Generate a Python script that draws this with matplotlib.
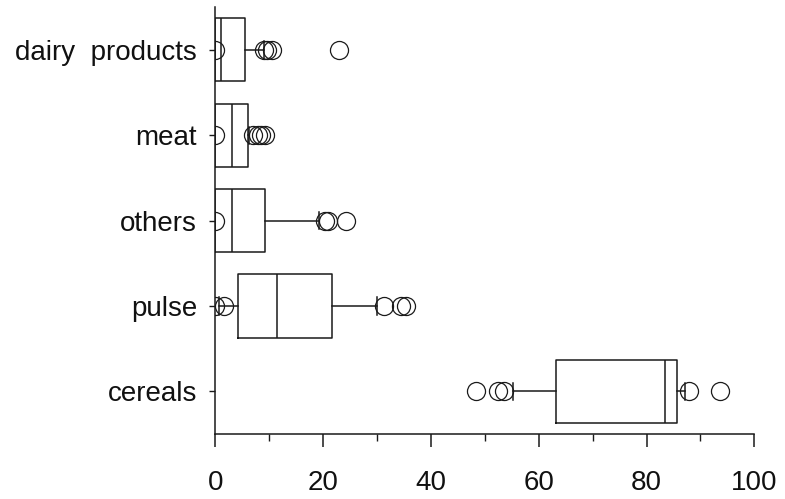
import matplotlib
matplotlib.use("Agg")
import matplotlib.pyplot as plt
from matplotlib.ticker import MultipleLocator

# Data (bottom to top)
categories = ["cereals", "pulse", "others", "meat", "dairy  products"]
q1      = [63.2, 4.2, 0.0, 0.0, 0.0]
medians = [83.4, 11.4, 3.1, 3.1, 1.0]
q3      = [85.6, 21.6, 9.2, 6.0, 5.4]
whislo  = [55.2, 0.7, 0.0, 0.0, 0.0]
whishi  = [87.1, 29.9, 19.2, 6.3, 9.0]
fliers  = [
    [48.3, 52.4, 53.6, 87.8, 93.7],
    [0.0, 1.6, 31.3, 34.5, 35.3],
    [0.0, 20.3, 20.9, 24.2],
    [0.0, 7.0, 7.8, 8.5, 9.2],
    [0.0, 9.0, 9.6, 10.5, 23.0],
]
xticks = [0, 20, 40, 60, 80, 100]

plt.rcParams['font.family'] = ['Liberation Sans', 'DejaVu Sans']

fig = plt.figure(figsize=(7.85, 4.99), dpi=100)
ax = fig.add_axes([0.2745, 0.130, 0.6864, 0.856])

stats = []
for i, c in enumerate(categories):
    stats.append(dict(label=c, q1=q1[i], med=medians[i], q3=q3[i],
                      whislo=whislo[i], whishi=whishi[i], fliers=fliers[i]))

lc = "#1a1a1a"
lw = 1.1
positions = list(range(1, len(categories) + 1))
ax.bxp(stats, positions=positions, vert=False, widths=0.74,
       capwidths=0.2,
       boxprops=dict(color=lc, linewidth=lw),
       medianprops=dict(color=lc, linewidth=lw),
       whiskerprops=dict(color=lc, linewidth=lw),
       capprops=dict(color=lc, linewidth=lw),
       flierprops=dict(marker='o', markersize=13, markerfacecolor='none',
                       markeredgecolor=lc, markeredgewidth=0.9, linestyle='none'))

ax.set_xlim(0, 100)
ax.set_ylim(0.5, len(categories) + 0.5)
ax.set_yticks(positions)
ax.set_yticklabels(categories)
ax.set_xticks(xticks)
ax.set_xticklabels([str(t) for t in xticks])
ax.xaxis.set_minor_locator(MultipleLocator(10))

for s in ("top", "right"):
    ax.spines[s].set_visible(False)
for s in ("left", "bottom"):
    ax.spines[s].set_linewidth(1.1)
    ax.spines[s].set_color(lc)

ax.tick_params(axis='y', which='major', direction='out', length=4.3, width=1.0,
               color=lc, pad=9, labelsize=20, labelcolor='#111111')
ax.tick_params(axis='x', which='major', direction='out', length=9.5, width=1.1,
               color=lc, pad=16, labelsize=20, labelcolor='#111111')
ax.tick_params(axis='x', which='minor', direction='out', length=5, width=1.0,
               color=lc)

fig.savefig("out.png", dpi=100, facecolor='white')
